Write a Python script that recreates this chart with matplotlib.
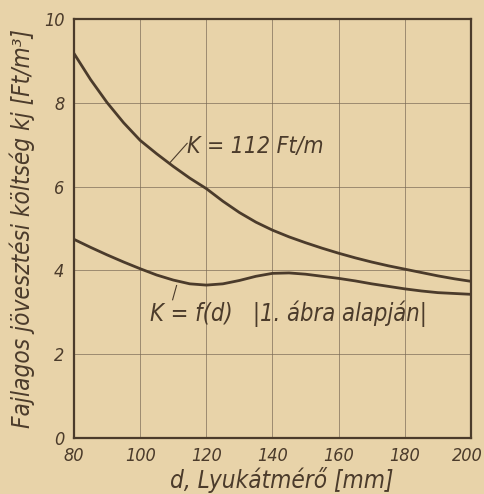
import matplotlib
matplotlib.use("Agg")
import matplotlib.pyplot as plt
from matplotlib.transforms import ScaledTranslation

# atmero d [mm]
d = [80, 85, 90, 95, 100, 105, 110, 115, 120, 125, 130, 135, 140, 145, 150,
     155, 160, 165, 170, 175, 180, 185, 190, 195, 200]

# K = 112 Ft/m
k_112 = [9.17, 8.55, 8.0, 7.52, 7.1, 6.78, 6.48, 6.2, 5.95, 5.65, 5.38, 5.15, 4.96,
         4.8, 4.66, 4.53, 4.41, 4.3, 4.2, 4.11, 4.03, 3.95, 3.87, 3.8, 3.74]

# K = f(d)
k_fd = [4.74, 4.55, 4.37, 4.2, 4.04, 3.89, 3.77, 3.68, 3.65, 3.68, 3.76, 3.86, 3.93,
        3.94, 3.91, 3.86, 3.81, 3.75, 3.68, 3.62, 3.56, 3.51, 3.47, 3.45, 3.43]

x_ticks = [80, 100, 120, 140, 160, 180, 200]
y_ticks = [0, 2, 4, 6, 8, 10]

bg = "#e8d3a9"
ink = "#4b3b2b"
txt = dict(family="DejaVu Sans", stretch="condensed", style="italic", color=ink)

fig = plt.figure(figsize=(4.84, 4.94), dpi=100, facecolor=bg)
ax = fig.add_axes([0.153, 0.113, 0.82, 0.849], facecolor=bg)

ax.plot(d, k_112, color=ink, lw=2.0)
ax.plot(d, k_fd, color=ink, lw=2.0)

ax.set_xlim(80, 200)
ax.set_ylim(0, 10)
ax.set_xticks(x_ticks)
ax.set_yticks(y_ticks)
ax.grid(True, color="#7a6a56", lw=0.6, alpha=0.8)
ax.tick_params(length=0, colors=ink)
ax.tick_params(axis="x", pad=6)
ax.tick_params(axis="y", pad=7)
for lab in ax.get_xticklabels() + ax.get_yticklabels():
    lab.set(fontsize=13, **txt)
# utolso felirat kicsit balra, hogy kiferjen
last = ax.get_xticklabels()[-1]
last.set_transform(last.get_transform() + ScaledTranslation(-4 / 100, 0, fig.dpi_scale_trans))
for s in ax.spines.values():
    s.set_color(ink)
    s.set_linewidth(1.6)

# feliratok
ax.text(114, 6.95, "K = 112 Ft/m", fontsize=16.5, va="center", **txt)
ax.plot([109, 114.2], [6.57, 7.03], color=ink, lw=0.8)
ax.text(103, 2.97, "K = f(d)   |1. ábra alapján|", fontsize=17, va="center", **txt)
ax.plot([111, 109.8], [3.64, 3.3], color=ink, lw=0.8)

fig.text(0.583, 0.028, "d, Lyukátmérő [mm]", fontsize=17.5, ha="center", va="center", **txt)
ax.set_ylabel("Fajlagos jövesztési költség kj [Ft/m³]", fontsize=17.5, labelpad=6, **txt)

fig.savefig("out.png", dpi=100, facecolor=bg)
